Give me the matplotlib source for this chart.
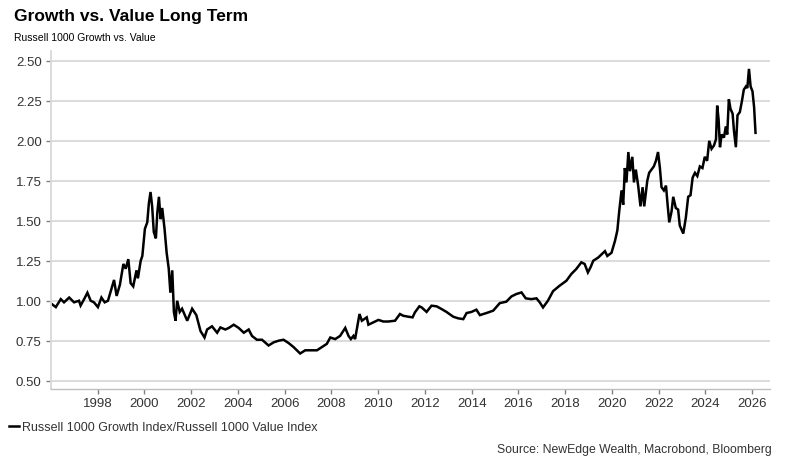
import matplotlib
matplotlib.use("Agg")
import matplotlib.pyplot as plt

plt.rcParams['font.family'] = ['Liberation Sans', 'DejaVu Sans']

# Russell 1000 Growth / Russell 1000 Value (fractional years)
years = [
    1996.03, 1996.21, 1996.42, 1996.56, 1996.78, 1996.99, 1997.20, 1997.27, 1997.42, 1997.56,
    1997.70, 1997.84, 1998.01, 1998.16, 1998.30, 1998.44, 1998.56, 1998.70, 1998.81, 1998.95,
    1999.10, 1999.20, 1999.31, 1999.41, 1999.52, 1999.66, 1999.72, 1999.84, 1999.91, 2000.02,
    2000.12, 2000.19, 2000.26, 2000.33, 2000.40, 2000.49, 2000.55, 2000.62, 2000.69, 2000.76,
    2000.86, 2000.95, 2001.04, 2001.11, 2001.19, 2001.26, 2001.33, 2001.40, 2001.51, 2001.61,
    2001.83, 2002.04, 2002.22, 2002.40, 2002.57, 2002.68, 2002.89, 2003.11,
    2003.25, 2003.46, 2003.61, 2003.82, 2004.03, 2004.25, 2004.46, 2004.60, 2004.81, 2005.03,
    2005.31, 2005.53, 2005.74, 2005.95, 2006.17, 2006.38, 2006.66, 2006.88, 2007.09, 2007.38,
    2007.59, 2007.80, 2007.95, 2008.16, 2008.37, 2008.59, 2008.73, 2008.83, 2008.94, 2009.01,
    2009.20, 2009.30, 2009.40, 2009.51, 2009.58, 2009.79, 2010.01, 2010.22, 2010.43, 2010.72,
    2010.93, 2011.07, 2011.29, 2011.47, 2011.57, 2011.76,
    2011.86, 2012.07, 2012.28, 2012.50, 2012.71, 2012.92, 2013.21, 2013.42, 2013.64, 2013.78,
    2013.99, 2014.20, 2014.35, 2014.63, 2014.92, 2015.20, 2015.48, 2015.70, 2015.91, 2016.13,
    2016.31, 2016.55, 2016.77, 2016.91, 2017.05, 2017.26, 2017.48, 2017.76, 2018.05, 2018.26,
    2018.47, 2018.69, 2018.83, 2018.97, 2019.08,
    2019.20, 2019.41, 2019.70, 2019.80, 2019.98, 2020.13, 2020.23, 2020.31, 2020.41, 2020.48,
    2020.55, 2020.62, 2020.70, 2020.77, 2020.87, 2020.94, 2021.02, 2021.12, 2021.22, 2021.31,
    2021.38, 2021.51, 2021.59, 2021.69, 2021.79, 2021.88, 2021.97, 2022.05, 2022.12, 2022.22,
    2022.31, 2022.38, 2022.45, 2022.55, 2022.62, 2022.73, 2022.83, 2022.90, 2023.05, 2023.16,
    2023.26, 2023.36, 2023.45, 2023.55, 2023.65, 2023.76, 2023.87, 2023.97, 2024.07, 2024.16,
    2024.26, 2024.36, 2024.45, 2024.50, 2024.56, 2024.62, 2024.69, 2024.79, 2024.87, 2024.93,
    2025.00, 2025.07, 2025.16, 2025.22, 2025.30, 2025.37, 2025.47, 2025.56, 2025.64, 2025.73,
    2025.79, 2025.86, 2025.93, 2026.01, 2026.08, 2026.14,
]
ratio = [
    0.98, 0.96, 1.01, 0.99, 1.02, 0.99, 1.00, 0.97, 1.01, 1.05,
    1.00, 0.99, 0.96, 1.02, 0.99, 1.00, 1.06, 1.13, 1.03, 1.10,
    1.23, 1.20, 1.26, 1.11, 1.09, 1.19, 1.14, 1.25, 1.28, 1.45,
    1.49, 1.61, 1.68, 1.59, 1.43, 1.39, 1.55, 1.65, 1.51, 1.58,
    1.45, 1.30, 1.20, 1.05, 1.19, 0.93, 0.875, 1.00, 0.93, 0.95,
    0.875, 0.95, 0.91, 0.81, 0.77, 0.82, 0.84, 0.80,
    0.833, 0.82, 0.83, 0.85, 0.83, 0.80, 0.82, 0.78, 0.756, 0.756,
    0.72, 0.74, 0.75, 0.756, 0.735, 0.71, 0.67, 0.69, 0.69, 0.69,
    0.71, 0.73, 0.77, 0.76, 0.78, 0.83, 0.78, 0.76, 0.78, 0.76,
    0.917, 0.875, 0.885, 0.896, 0.85, 0.865, 0.88, 0.87, 0.87, 0.875,
    0.917, 0.906, 0.90, 0.896, 0.927, 0.965,
    0.958, 0.93, 0.969, 0.965, 0.948, 0.93, 0.90, 0.89, 0.885, 0.923,
    0.93, 0.944, 0.91, 0.923, 0.938, 0.985, 0.994, 1.027, 1.042, 1.052,
    1.015, 1.01, 1.015, 0.99, 0.958, 1.00, 1.06, 1.094, 1.125, 1.167,
    1.198, 1.24, 1.23, 1.177, 1.208,
    1.25, 1.27, 1.31, 1.28, 1.30, 1.375, 1.44, 1.56, 1.69, 1.60,
    1.83, 1.74, 1.93, 1.81, 1.90, 1.74, 1.82, 1.72, 1.59, 1.71,
    1.59, 1.75, 1.80, 1.82, 1.84, 1.875, 1.93, 1.83, 1.71, 1.69,
    1.72, 1.60, 1.49, 1.56, 1.65, 1.58, 1.57, 1.47, 1.42, 1.52,
    1.65, 1.66, 1.77, 1.80, 1.78, 1.84, 1.83, 1.90, 1.875, 2.00,
    1.95, 1.97, 2.01, 2.22, 2.135, 1.96, 2.04, 2.02, 2.09, 2.04,
    2.26, 2.20, 2.17, 2.06, 1.96, 2.16, 2.18, 2.25, 2.32, 2.34,
    2.33, 2.45, 2.34, 2.31, 2.21, 2.05,
]

tick_years = [1998, 2000, 2002, 2004, 2006, 2008, 2010, 2012, 2014, 2016, 2018, 2020, 2022, 2024, 2026]
y_ticks = [0.50, 0.75, 1.00, 1.25, 1.50, 1.75, 2.00, 2.25, 2.50]

fig = plt.figure(figsize=(7.86, 4.64), dpi=100)
ax = fig.add_axes([0.0645, 0.1595, 0.915, 0.7278])

line, = ax.plot(years, ratio, color='black', lw=1.8, solid_joinstyle='miter',
                label='Russell 1000 Growth Index/Russell 1000 Value Index')

ax.set_xlim(1995.99, 2026.755)
ax.set_ylim(0.448, 2.56)
ax.set_xticks(tick_years)
ax.set_xticklabels([str(y) for y in tick_years])
ax.set_yticks(y_ticks)
ax.set_yticklabels(['%.2f' % v for v in y_ticks])

ax.grid(axis='y', color='#d9d9d9', lw=1.3)
ax.set_axisbelow(True)
for s in ['top', 'right']:
    ax.spines[s].set_visible(False)
ax.spines['left'].set_color('#d9d9d9')
ax.spines['left'].set_linewidth(1.3)
ax.spines['bottom'].set_color('#c0c0c0')
ax.spines['bottom'].set_linewidth(1.0)
ax.tick_params(axis='y', length=3.5, width=1.0, color='#808080', labelsize=9.5,
               labelcolor='#333333', pad=3)
ax.tick_params(axis='x', length=3.5, width=1.0, color='#808080', labelsize=9.5,
               labelcolor='#333333', pad=2)

fig.text(0.018, 1 - 17 / 464, 'Growth vs. Value Long Term', fontsize=12.5,
         fontweight='bold', va='center', ha='left')
fig.text(0.018, 1 - 38 / 464, 'Russell 1000 Growth vs. Value', fontsize=7.5,
         va='center', ha='left')

fig.legend(handles=[line], loc='center left', bbox_to_anchor=(0.012, 1 - 428 / 464),
           frameon=False, handlelength=0.8, handletextpad=0.2, borderaxespad=0,
           borderpad=0, fontsize=9.0, labelcolor='#333333')
fig.text(772 / 786, 1 - 450 / 464, 'Source: NewEdge Wealth, Macrobond, Bloomberg',
         fontsize=8.8, color='#333333', ha='right', va='center')

fig.savefig('out.png', dpi=100)
